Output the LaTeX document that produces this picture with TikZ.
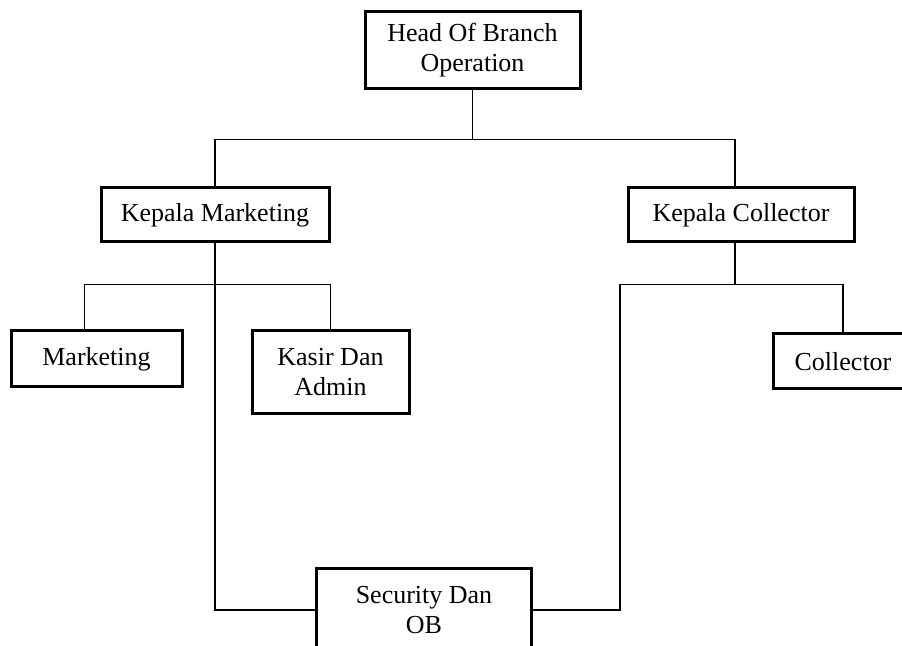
\documentclass[tikz,border=0pt]{standalone}
\usepackage{fontspec}
\setmainfont{Liberation Serif}
\usetikzlibrary{positioning}
\tikzset{
	orgbox/.style={draw, line width=1.5pt, align=center, inner sep=0pt, font=\fontsize{13}{15}\selectfont},
	link/.style={line width=0.7pt}
}
\begin{document}
\begin{tikzpicture}[x=0.5pt,y=-0.5pt]
		\useasboundingbox (0,0) rectangle (902,646);
		\node[orgbox, minimum width=107.5pt, minimum height=38.5pt](head) at (472.5,50.5){Head Of Branch\\Operation};
		\node[orgbox, minimum width=114pt, minimum height=27pt](kmkt) at (215,215){Kepala Marketing};
		\node[orgbox, minimum width=113pt, minimum height=27pt](kcol) at (741,215){Kepala Collector};
		\node[orgbox, minimum width=85.5pt, minimum height=28pt](mkt) at (96.5,359){Marketing};
		\node[orgbox, minimum width=78.5pt, minimum height=41.5pt](kasir) at (330.5,372.5){Kasir Dan\\Admin};
		\node[orgbox, minimum width=70pt, minimum height=27.5pt](coll) at (843,361.5){Collector};
		\node[orgbox, minimum width=107.5pt, minimum height=41pt](sec) at (424,610){Security Dan\\OB};
		
		\draw[link] (head.south) -- ++(0,49) -| (kmkt.north);
		\draw[link] (head.south) -- ++(0,49) -| ([xshift=-3pt]kcol.north);
		\draw[link] (kmkt.south) -- ++(0,41) -| ([xshift=-6pt]mkt.north);
		\draw[link] (kmkt.south) -- ++(0,41) -| (kasir.north);
		\draw[link] (kmkt.south) |- (sec.west);
		\draw[link] ([xshift=-3pt]kcol.south) -- ++(0,41) -| (coll.north);
		\draw[link] ([xshift=-3pt]kcol.south) -- ++(0,41) -- ++(-115,0) |- (sec.east);
		
		\end{tikzpicture}
\end{document}
